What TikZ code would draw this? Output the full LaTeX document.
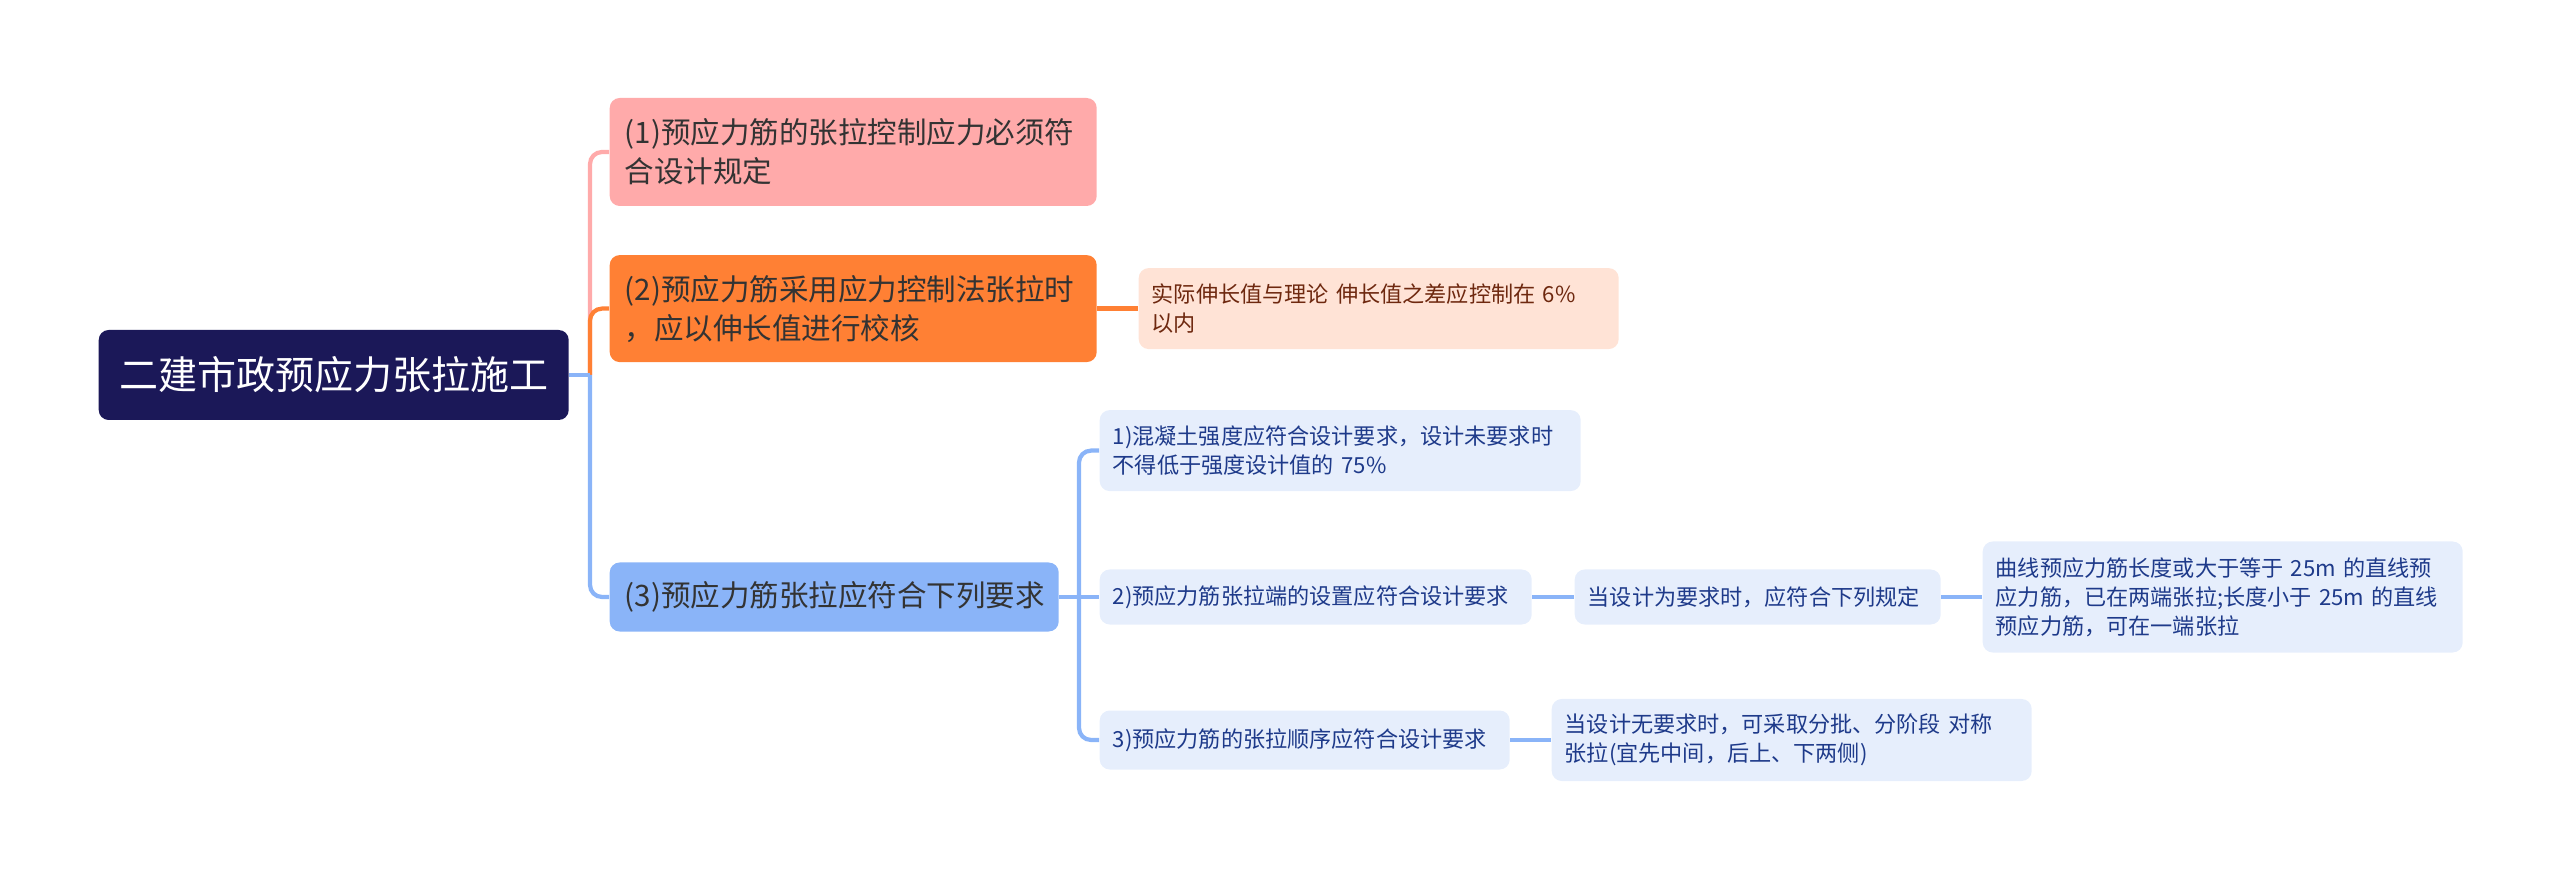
\documentclass[tikz,border=0pt]{standalone}
\usepackage{fontspec}
\newfontfamily\cjk{Noto Sans CJK SC}
\usepackage{xcolor}
\usepackage{tikz}
\usetikzlibrary{positioning}
\definecolor{rootfill}{RGB}{27,24,88}
\definecolor{pinkfill}{RGB}{255,170,170}
\definecolor{orangefill}{RGB}{255,128,52}
\definecolor{bluefill}{RGB}{138,180,248}
\definecolor{peachfill}{RGB}{255,227,214}
\definecolor{peachtext}{RGB}{110,40,15}
\definecolor{leaffill}{RGB}{230,238,252}
\definecolor{leaftext}{RGB}{30,58,138}

\begin{document}
\begin{tikzpicture}[
  box/.style={anchor=west,rounded corners=0.1cm,inner ysep=0pt,align=left},
  topic/.style={box,inner xsep=0.15cm,text=black!80,font=\cjk\fontsize{8.4}{11.1}\selectfont},
  leaf/.style={box,inner xsep=0.13cm,fill=leaffill,text=leaftext,font=\cjk\fontsize{6.3}{8.3}\selectfont},
  ln/.style={line width=1.2pt,rounded corners=0.12cm}]
 \useasboundingbox (0,0) rectangle (25.6,-8.81);
 % root
 \node[box,fill=rootfill,text=white,minimum width=4.70cm,minimum height=0.90cm,
   font=\cjk\fontsize{11.1}{13}\selectfont] (root) at (0.98,-3.75) {二建市政预应力张拉施工};
 % main topics
 \node[topic,fill=pinkfill,text width=4.57cm,minimum height=1.08cm] (n1) at (6.09,-1.52)
   {(1)预应力筋的张拉控制应力必须符\\合设计规定};
 \node[topic,fill=orangefill,text width=4.57cm,minimum height=1.07cm] (n2) at (6.09,-3.086)
   {(2)预应力筋采用应力控制法张拉时\\，应以伸长值进行校核};
 \node[topic,fill=bluefill,text width=4.19cm,minimum height=0.69cm] (n3) at (6.09,-5.97)
   {(3)预应力筋张拉应符合下列要求};
 % subtopics
 \node[leaf,fill=peachfill,text=peachtext,text width=4.54cm,minimum height=0.81cm] (o1) at (11.38,-3.086)
   {实际伸长值与理论 伸长值之差应控制在 6\%\\以内};
 \node[leaf,text width=4.55cm,minimum height=0.81cm] (b1) at (10.99,-4.506)
   {1)混凝土强度应符合设计要求，设计未要求时\\不得低于强度设计值的 75\%};
 \node[leaf,text width=4.06cm,minimum height=0.55cm] (b2) at (10.99,-5.97)
   {2)预应力筋张拉端的设置应符合设计要求};
 \node[leaf,text width=3.40cm,minimum height=0.55cm] (b2a) at (15.74,-5.97)
   {当设计为要求时，应符合下列规定};
 \node[leaf,text width=4.54cm,minimum height=1.11cm] (b2b) at (19.82,-5.97)
   {曲线预应力筋长度或大于等于 25m 的直线预\\应力筋，已在两端张拉;长度小于 25m 的直线\\预应力筋，可在一端张拉};
 \node[leaf,text width=3.84cm,minimum height=0.59cm] (b3) at (10.99,-7.40)
   {3)预应力筋的张拉顺序应符合设计要求};
 \node[leaf,text width=4.54cm,minimum height=0.82cm] (b3a) at (15.51,-7.40)
   {当设计无要求时，可采取分批、分阶段 对称\\张拉(宜先中间，后上、下两侧)};
 % connectors
 \coordinate (hub) at (5.90,-3.75);
 \coordinate (hub3) at (10.79,-5.97);
 \draw[ln,pinkfill] (hub) |- (n1.west);
 \draw[ln,orangefill] (hub) |- (n2.west);
 \draw[ln,bluefill] (hub) |- (n3.west);
 \draw[line width=1.2pt,bluefill] (root.east) -- (hub);
 \draw[line width=1.2pt,orangefill] (n2.east) -- (o1.west);
 \draw[line width=1.2pt,bluefill] (n3.east) -- (b2.west);
 \draw[ln,bluefill] (b1.west) -| (hub3) |- (b3.west);
 \draw[line width=1.2pt,bluefill] (b2.east) -- (b2a.west);
 \draw[line width=1.2pt,bluefill] (b2a.east) -- (b2b.west);
 \draw[line width=1.2pt,bluefill] (b3.east) -- (b3a.west);
\end{tikzpicture}
\end{document}
